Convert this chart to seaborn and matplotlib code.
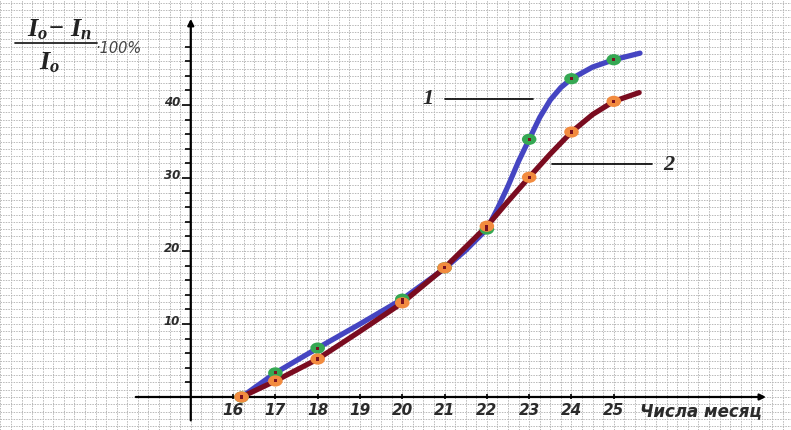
import numpy as np
import matplotlib
matplotlib.use("Agg")
import matplotlib.pyplot as plt
from matplotlib.path import Path
from matplotlib.transforms import Affine2D
import seaborn as sns

# measured points (day of month, percent)
days = [16.2, 17, 18, 20, 21, 22, 23, 24, 25]
curve1 = [0, 3.3, 6.7, 13.4, 17.7, 23.0, 35.3, 43.6, 46.2]
curve2 = [0, 2.2, 5.2, 12.9, 17.7, 23.4, 30.1, 36.3, 40.5]

# points
line1_x = [16.2, 17, 18, 19, 20, 21, 21.5, 22, 22.25, 22.5, 22.75, 23, 23.25, 23.5, 23.75, 24, 24.5, 25, 25.62]
line1_y = [0, 3.3, 6.7, 10.0, 13.4, 17.6, 20.1, 23.0, 25.8, 28.9, 32.3, 35.3, 38.3, 40.7, 42.4, 43.6, 45.2, 46.2, 47.1]
line2_x = [16.2, 17, 18, 19, 20, 21, 22, 22.5, 23, 23.5, 24, 24.5, 25, 25.6]
line2_y = [0, 2.2, 5.2, 9.0, 12.9, 17.7, 23.4, 26.8, 30.1, 33.3, 36.3, 38.7, 40.5, 41.7]

xticks = [16, 17, 18, 19, 20, 21, 22, 23, 24, 25]
yticks = [10, 20, 30, 40]
yminor = [2, 4, 6, 8, 12, 14, 16, 18, 22, 24, 26, 28, 32, 34, 36, 38, 42, 44, 46, 48]
xlabel = "Числа месяц"

sns.set_style("white")
plt.rcParams['font.family'] = ['DejaVu Sans']
plt.rcParams['mathtext.fontset'] = 'custom'
plt.rcParams['mathtext.it'] = 'Liberation Serif:italic:bold'
plt.rcParams['mathtext.rm'] = 'Liberation Serif:bold'

# slightly wide oval marker like the hand drawn dots
oval = Path.unit_circle().transformed(Affine2D().scale(1.3, 1.0))

fig = plt.figure(figsize=(7.91, 4.30), dpi=100)
ax = fig.add_axes([0, 0, 1, 1])
xmin, xmax = 10.49, 10.49 + 791 / 42.3
ymin, ymax = -33 / 7.3, 397 / 7.3
ax.set_xlim(xmin, xmax)
ax.set_ylim(ymin, ymax)
for s in ax.spines.values():
    s.set_visible(False)
ax.set_xticks([])
ax.set_yticks([])

# graph paper
for gx in np.arange(10.5, 29.3, 0.25):
    ax.axvline(gx, color='#b8b8b8', lw=0.7, ls=(0, (1.5, 1.2)), zorder=0)
for gy in np.arange(-4, 55, 1):
    ax.axhline(gy, color='#b8b8b8', lw=0.7, ls=(0, (1.5, 1.2)), zorder=0)

# axes with arrows
ax.annotate('', xy=(28.6, 0), xytext=(13.7, 0),
            arrowprops=dict(arrowstyle='-|>', lw=1.6, color='black', mutation_scale=9, shrinkA=0, shrinkB=0), zorder=3)
ax.annotate('', xy=(15.0, 51.8), xytext=(15.0, -3.2),
            arrowprops=dict(arrowstyle='-|>', lw=1.6, color='black', mutation_scale=9, shrinkA=0, shrinkB=0), zorder=3)
ax.hlines(yticks, 14.8, 15.0, color='black', lw=1.2, zorder=3)
ax.hlines(yminor, 14.87, 15.0, color='black', lw=1.2, zorder=3)
ax.vlines(xticks, -0.25, 0.35, color='black', lw=1.2, zorder=3)

tick_font = dict(style='italic', weight='bold', color='#2b2b2b')
for t in xticks:
    ax.text(t, -1.9, str(t), ha='center', va='center', fontsize=11, **tick_font)
for t in yticks:
    ax.text(14.75, t + 0.3, str(t), ha='right', va='center', fontsize=8.5, **tick_font)
ax.text(25.62, -1.9, xlabel, ha='left', va='center', fontsize=12, **tick_font)

# y label as fraction
ax.text(11.9, 50.4, r'$I_o\!-\,I_n$', ha='center', va='center', fontsize=19, color='#222222')
ax.plot([10.84, 12.78], [48.5, 48.5], color='#222222', lw=1.3)
ax.text(11.67, 45.8, r'$I_o$', ha='center', va='center', fontsize=19, color='#222222')
ax.text(12.75, 47.8, '·100%', ha='left', va='center', fontsize=10.5, style='italic', color='#444444')

# curves
sns.lineplot(x=line1_x, y=line1_y, ax=ax, color='#4545c2', lw=3.8, sort=False, estimator=None, zorder=4)
sns.lineplot(x=line2_x, y=line2_y, ax=ax, color='#7a0c20', lw=3.8, sort=False, estimator=None, zorder=5)
sns.scatterplot(x=days, y=curve1, ax=ax, s=110, marker=oval, color='#35a853', edgecolor='none', zorder=6)
sns.scatterplot(x=days, y=curve2, ax=ax, s=110, marker=oval, color='#f28b3f', edgecolor='none', zorder=7)
sns.scatterplot(x=days, y=curve1, ax=ax, s=5, marker='s', color='#7a1020', edgecolor='none', zorder=8)
sns.scatterplot(x=days, y=curve2, ax=ax, s=5, marker='s', color='#7a1020', edgecolor='none', zorder=8)

# curve labels
ax.plot([21.0, 23.1], [40.8, 40.8], color='black', lw=1.2)
ax.text(20.6, 40.8, '1', ha='center', va='center', fontsize=16, style='italic', weight='bold', family='Liberation Serif')
ax.plot([23.55, 25.9], [31.9, 31.9], color='black', lw=1.2)
ax.text(26.3, 31.8, '2', ha='center', va='center', fontsize=16, style='italic', weight='bold', family='Liberation Serif')

plt.savefig('out.png', dpi=100)
plt.close()
